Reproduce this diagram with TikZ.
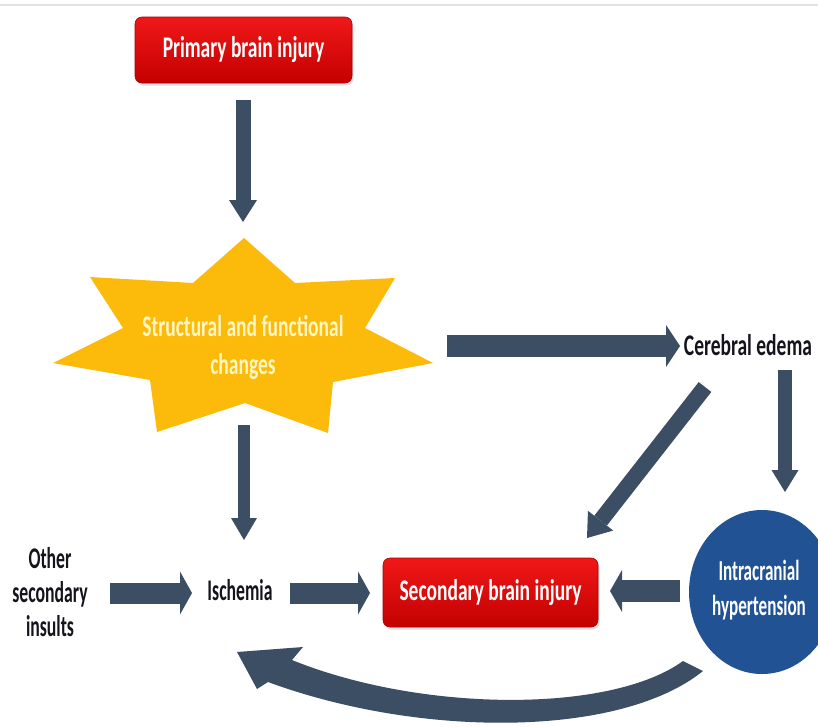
\documentclass[tikz,border=0pt]{standalone}
\usepackage{fontspec}
\newfontfamily\lbl{Carlito}[FakeStretch=0.65]
\newfontfamily\lbln{Carlito}[FakeStretch=0.59]
\usetikzlibrary{arrows.meta,shapes.geometric,shadows}
\definecolor{arrowc}{RGB}{60,78,100}
\definecolor{redtop}{RGB}{240,24,24}
\definecolor{redbot}{RGB}{196,0,0}
\definecolor{starc}{RGB}{252,186,10}
\definecolor{startext}{RGB}{255,246,196}
\definecolor{ichc}{RGB}{32,82,148}
\definecolor{txt}{RGB}{20,20,28}
\tikzset{
  barrow/.style args={#1/#2/#3}{draw=arrowc, line width=#1pt,
    -{Triangle[width=#2pt,length=#3pt,line width=0pt]}},
  redbox/.style={rounded corners=7pt, top color=redtop, bottom color=redbot,
    draw=redbot!85!black, line width=0.6pt, text=white,
    drop shadow={opacity=0.25, shadow xshift=1.5pt, shadow yshift=-2.5pt},
    font=\lbl\bfseries\fontsize{30}{34}\selectfont, inner sep=0pt},
  lab/.style={font=\lbl\bfseries\fontsize{30}{34}\selectfont, text=txt, align=center, inner sep=0pt},
}
\begin{document}
\begin{tikzpicture}[x=1pt,y=-1pt]
\useasboundingbox (0,0) rectangle (818,726);
\fill[white] (0,0) rectangle (818,726);
\draw[gray!22, line width=1.5pt] (0,5) -- (818,5);

% nodes
\node[redbox, minimum width=217pt, minimum height=66pt] (pbi) at (243.5,50) {Primary brain injury};
\fill[starc] (244,238) -- (295,283) -- (395,278) -- (365,328) -- (433,363) -- (333,382)
  -- (328,433) -- (245,403) -- (157,432) -- (150,380) -- (53,363) -- (123,328)
  -- (90,277) -- (193,283) -- cycle;
\node[lab, text=startext, font=\lbl\bfseries\fontsize{30}{38}\selectfont] (star) at (243,347) {Structural and functional\\changes};
\node[lab] (edema) at (748,345) {Cerebral edema};
\node[ellipse, fill=ichc, minimum width=146pt, minimum height=164pt, inner sep=0pt] (ich) at (762,592) {};
\node[lab, text=white, font=\lbln\bfseries\fontsize{29}{35}\selectfont] (ichtext) at (759,590) {Intracranial\\hypertension};
\node[redbox, minimum width=215pt, minimum height=69pt] (sbi) at (490.5,592.5) {Secondary brain injury};
\node[lab, font=\lbln\bfseries\fontsize{30}{34}\selectfont] (isch) at (240,590) {Ischemia};
\node[lab, font=\lbln\bfseries\fontsize{30}{34}\selectfont] (other) at (50,592) {Other\\secondary\\insults};

% arrow end points
\coordinate (a1s) at (243,100); \coordinate (a1e) at (243,222);
\coordinate (a2s) at (447,346); \coordinate (a2e) at (680,346);
\coordinate (a3s) at (785,370); \coordinate (a3e) at (785,492);
\coordinate (a4s) at (705,387); \coordinate (a4e) at (587,538);
\coordinate (a5s) at (244,425); \coordinate (a5e) at (244,540);
\coordinate (a6s) at (110,593); \coordinate (a6e) at (192,593);
\coordinate (a7s) at (290,593); \coordinate (a7e) at (370,593);
\coordinate (a8s) at (680,591); \coordinate (a8e) at (610,591);

\draw[barrow=15/28/22] (a1s) -- (a1e);
\draw[barrow=22/42/14] (a2s) -- (a2e);
\draw[barrow=14/27/22] (a3s) -- (a3e);
\draw[barrow=16/32/22] (a4s) -- (a4e);
\draw[barrow=12/26/22] (a5s) -- (a5e);
\draw[barrow=21/43/12] (a6s) -- (a6e);
\draw[barrow=21/43/12] (a7s) -- (a7e);
\draw[barrow=22/42/12] (a8s) -- (a8e);

% curved feedback arrow
\fill[arrowc] (683,661) .. controls (610,714) and (420,712) .. (292,660)
  -- (303,647) -- (237,652) -- (257,689) -- (268,682)
  .. controls (420,738) and (620,738) .. (703,671) -- cycle;
\end{tikzpicture}
\end{document}
